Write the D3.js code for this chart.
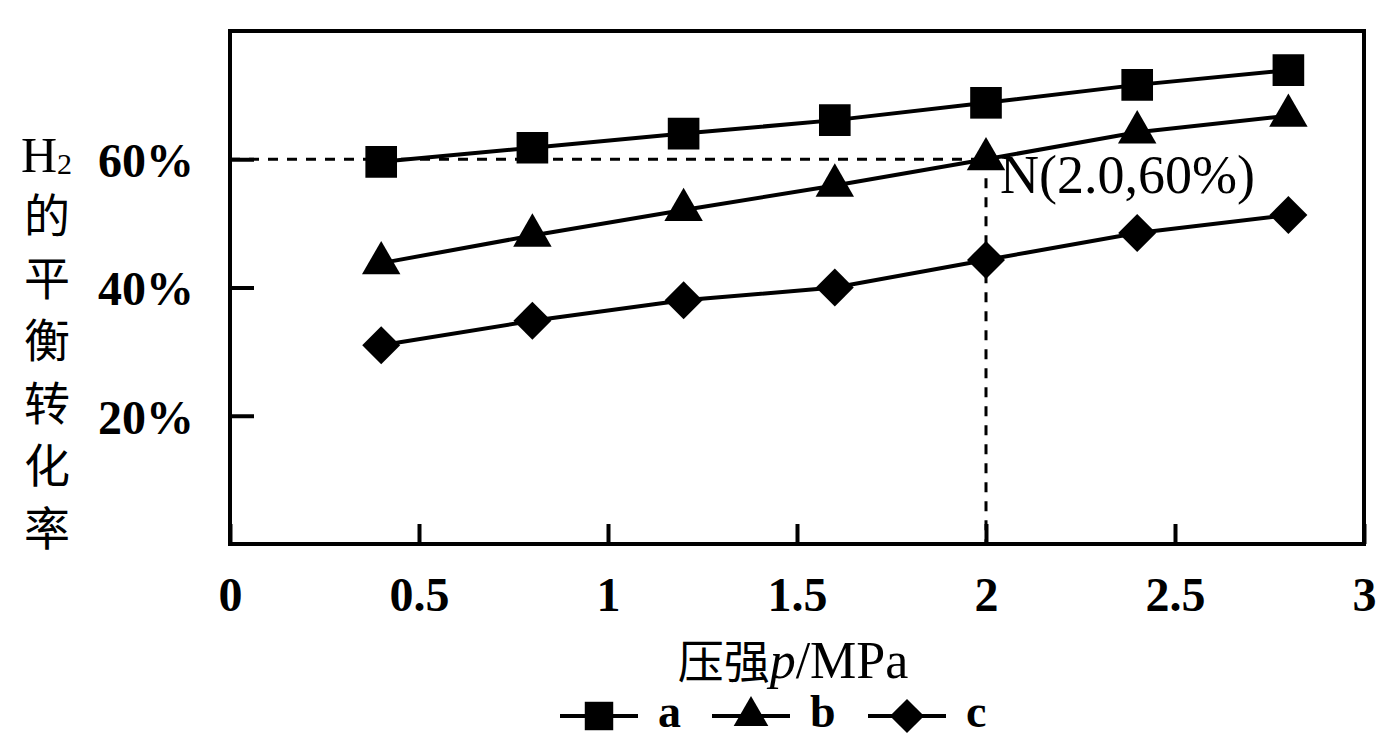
<!DOCTYPE html>
<html>
<head>
<meta charset="utf-8">
<script src="https://cdn.jsdelivr.net/npm/d3@7"></script>
<style>
  body { margin: 0; background: #fff; }
  svg text { font-family: "Liberation Serif", "Noto Sans CJK SC", serif; fill: #000; }
</style>
</head>
<body>
<svg class="chart"></svg>
<script>
// pressure p / MPa
var pressures = [0.4, 0.8, 1.2, 1.6, 2.0, 2.4, 2.8];
// H2 equilibrium conversion (%)
var seriesA = [59.6, 61.8, 64.0, 66.1, 68.8, 71.6, 73.9];
var seriesB = [43.8, 48.1, 52.1, 55.9, 60.0, 64.2, 66.8];
var seriesC = [31.0, 34.8, 38.0, 40.0, 44.3, 48.5, 51.3];
var seriesNames = ["a", "b", "c"];
var xTicks = [0, 0.5, 1, 1.5, 2, 2.5, 3];
var xTickLabels = ["0", "0.5", "1", "1.5", "2", "2.5", "3"];
var yTicks = [20, 40, 60];
var yLabelChars = ["的", "平", "衡", "转", "化", "率"];
var pointN = { p: 2.0, v: 60, label: "N(2.0,60%)" };

function show() {
    'use strict';

    var W = 1383, H = 737;
    var margin = { top: 31, left: 230, right: 19, bottom: 193 },
        width = W - margin.left - margin.right,
        height = H - margin.top - margin.bottom;

    var svg = d3.select(".chart").attr("width", W).attr("height", H);
    var chart = svg.append("g")
        .attr("transform", "translate(" + margin.left + "," + margin.top + ")");

    var x = d3.scaleLinear().domain([0, 3]).range([0, width]);
    var y = d3.scaleLinear().domain([0, 80]).range([height, 0]);

    // dashed guide lines to N
    chart.append("line")
        .attr("x1", x(0)).attr("x2", x(pointN.p))
        .attr("y1", y(pointN.v)).attr("y2", y(pointN.v))
        .attr("stroke", "#000").attr("stroke-width", 3)
        .attr("stroke-dasharray", "10,9");
    chart.append("line")
        .attr("x1", x(pointN.p)).attr("x2", x(pointN.p))
        .attr("y1", y(pointN.v)).attr("y2", y(0))
        .attr("stroke", "#000").attr("stroke-width", 3)
        .attr("stroke-dasharray", "10,9");

    // axes
    var xAxis = d3.axisBottom(x)
        .tickValues(xTicks)
        .tickFormat(function(d, i) { return xTickLabels[i]; })
        .tickSizeInner(-20).tickSizeOuter(0).tickPadding(32);
    var gx = chart.append("g")
        .attr("transform", "translate(0," + height + ")")
        .call(xAxis);
    gx.selectAll("text").style("font-size", "48px").style("font-weight", "bold").attr("dy", "0.72em");

    var yAxis = d3.axisLeft(y)
        .tickValues(yTicks)
        .tickFormat(function(d) { return d + "%"; })
        .tickSizeInner(-24).tickSizeOuter(0).tickPadding(36);
    var gy = chart.append("g").call(yAxis);
    gy.selectAll("text").style("font-size", "48px").style("font-weight", "bold").attr("dy", "0.36em");

    [gx, gy].forEach(function(g) {
        g.select(".domain").remove();
        g.selectAll("line").attr("stroke", "#000").attr("stroke-width", 4);
    });

    // frame
    chart.append("rect")
        .attr("x", 0).attr("y", 0)
        .attr("width", width).attr("height", height)
        .attr("fill", "none").attr("stroke", "#000").attr("stroke-width", 4);

    // series
    var series = [
        { name: seriesNames[0], values: seriesA, shape: "square" },
        { name: seriesNames[1], values: seriesB, shape: "triangle" },
        { name: seriesNames[2], values: seriesC, shape: "diamond" }
    ];

    function marker(shape, scale) {
        scale = scale || 1;
        if (shape === "square") return d3.symbol(d3.symbolSquare, 1000 * scale * scale)();
        if (shape === "triangle") return d3.symbol(d3.symbolTriangle, 640 * scale * scale)();
        return d3.symbol(d3.symbolSquare, 720 * scale * scale)();
    }
    function markerRot(shape) { return shape === "diamond" ? " rotate(45)" : ""; }

    var line = d3.line()
        .x(function(d, i) { return x(pressures[i]); })
        .y(function(d) { return y(d); });

    series.forEach(function(s) {
        chart.append("path")
            .datum(s.values)
            .attr("d", line)
            .attr("fill", "none").attr("stroke", "#000").attr("stroke-width", 4);

        chart.selectAll(".pt-" + s.name)
            .data(s.values)
            .enter().append("path")
            .attr("class", "pt-" + s.name)
            .attr("d", marker(s.shape))
            .attr("transform", function(d, i) {
                return "translate(" + x(pressures[i]) + "," + y(d) + ")" + markerRot(s.shape);
            })
            .attr("fill", "#000");
    });

    // N label
    chart.append("text")
        .attr("x", x(pointN.p) + 14)
        .attr("y", y(pointN.v) + 34)
        .style("font-size", "54px")
        .text(pointN.label);

    // y title (vertical stack)
    var yt = svg.append("g");
    var h2 = yt.append("text").attr("x", 21).attr("y", 172).style("font-size", "50px");
    h2.append("tspan").text("H");
    h2.append("tspan").attr("dy", 2).style("font-size", "30px").text("2");
    yt.selectAll(".ych")
        .data(yLabelChars)
        .enter().append("text")
        .attr("class", "ych")
        .attr("x", 47)
        .attr("y", function(d, i) { return 232 + i * 62.5; })
        .attr("text-anchor", "middle")
        .style("font-family", "'Noto Sans CJK SC', sans-serif")
        .style("font-size", "46px")
        .text(function(d) { return d; });

    // x title
    var xt = svg.append("text")
        .attr("x", 793)
        .attr("y", 678)
        .attr("text-anchor", "middle")
        .style("font-size", "52px");
    xt.append("tspan").style("font-family", "'Noto Sans CJK SC', sans-serif").style("font-size", "46px").text("压强");
    xt.append("tspan").style("font-style", "italic").text("p");
    xt.append("tspan").text("/MPa");

    // legend
    var legendX = [560, 712, 868];
    var leg = svg.append("g").attr("transform", "translate(0,716)");
    series.forEach(function(s, i) {
        var g = leg.append("g").attr("transform", "translate(" + legendX[i] + ",0)");
        g.append("line").attr("x1", 0).attr("x2", 78).attr("y1", 0).attr("y2", 0)
            .attr("stroke", "#000").attr("stroke-width", 4);
        g.append("path").attr("d", marker(s.shape, 0.9))
            .attr("transform", "translate(39,0)" + markerRot(s.shape))
            .attr("fill", "#000");
        g.append("text").attr("x", 98).attr("y", 11)
            .style("font-size", "46px").style("font-weight", "bold").text(s.name);
    });
}
show();
</script>
</body>
</html>
